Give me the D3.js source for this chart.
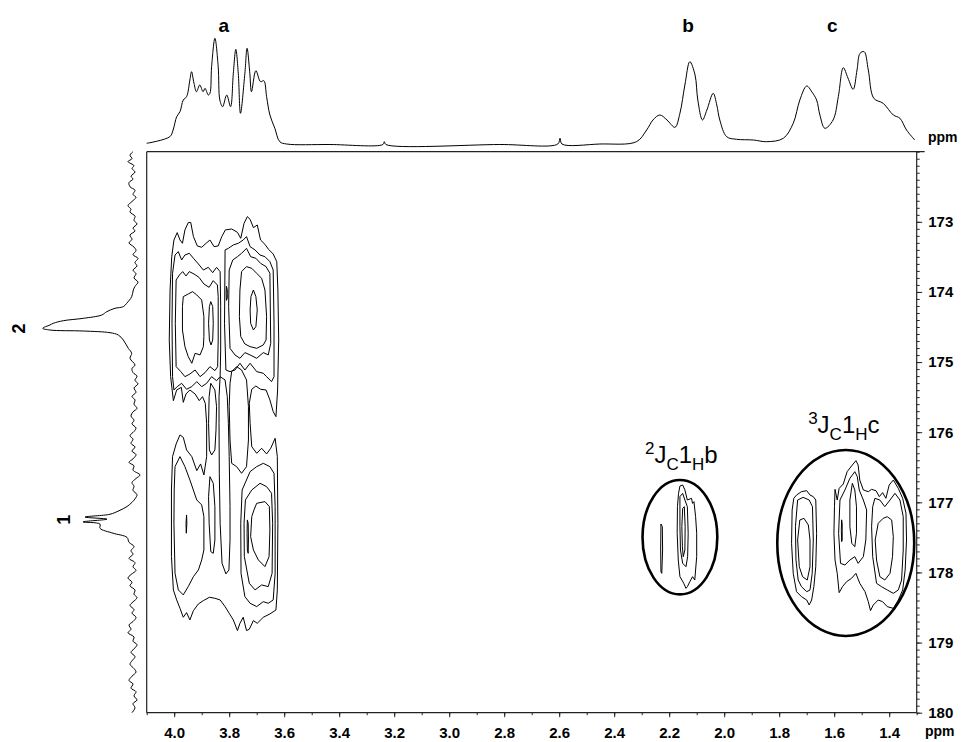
<!DOCTYPE html>
<html>
<head>
<meta charset="utf-8">
<script src="https://cdn.jsdelivr.net/npm/d3@7/dist/d3.min.js"></script>
<style>
  html, body { margin: 0; padding: 0; background: #fff; }
  svg { display: block; font-family: "Liberation Sans", Arial, Helvetica, sans-serif; }
</style>
</head>
<body>
<svg id="chart" width="961" height="742"></svg>
<script>
// ---------- axis ticks ----------
const protonTicks = [4.0, 3.8, 3.6, 3.4, 3.2, 3.0, 2.8, 2.6, 2.4, 2.2, 2.0, 1.8, 1.6, 1.4];
const carbonTicks = [173, 174, 175, 176, 177, 178, 179, 180];

// ---------- 1H projection (ppm, intensity) ----------
const protonTrace = [
  [4.100, 1.7], [4.016, 8.3], [4.004, 15], [3.991, 28.3], [3.979, 33.3], [3.967, 45], [3.955, 48.3],
  [3.943, 65], [3.937, 73.3], [3.928, 61.7], [3.919, 53.3], [3.907, 60], [3.895, 53.3], [3.888, 56.7],
  [3.876, 50], [3.870, 51.7], [3.864, 78.3], [3.852, 106.7], [3.840, 78.3], [3.834, 45], [3.824, 38.3],
  [3.809, 50], [3.795, 38.3], [3.785, 71.7], [3.776, 95.7], [3.767, 71.7], [3.759, 31.7], [3.743, 71.7],
  [3.735, 96.7], [3.725, 71.7], [3.719, 53.3], [3.703, 74.3], [3.686, 63.3], [3.674, 64.3], [3.664, 48.3],
  [3.652, 30], [3.634, 16.7], [3.616, 3.3], [3.591, 1], [3.434, 0.5], [3.241, 0.5], [3.236, 3.3],
  [3.230, 0.5], [2.816, 0.5], [2.605, 1], [2.597, 6.7], [2.590, 1], [2.452, 1], [2.319, 3.3],
  [2.282, 15], [2.259, 25], [2.234, 30], [2.208, 25], [2.179, 17.7], [2.161, 31.7], [2.143, 60],
  [2.125, 83.3], [2.106, 70], [2.096, 45], [2.079, 25], [2.063, 35], [2.040, 51.7], [2.027, 40],
  [2.016, 25], [1.991, 8.3], [1.955, 5.7], [1.894, 5], [1.846, 3.3], [1.785, 6.7], [1.749, 21.7],
  [1.725, 45], [1.700, 59], [1.681, 53], [1.664, 45], [1.652, 30], [1.634, 16.7], [1.604, 25],
  [1.585, 48.3], [1.567, 77.3], [1.550, 67], [1.531, 55.7], [1.517, 75], [1.506, 91.7], [1.491, 93.3],
  [1.476, 75], [1.456, 46.7], [1.422, 41.7], [1.385, 30], [1.361, 26.7], [1.337, 15], [1.307, 5]
];
const protonLabels = [["a", 3.820], ["b", 2.131], ["c", 1.607]];

// ---------- 13C projection (ppm, intensity) ----------
const carbonTrace = [
  [172.00, 4], [172.05, 7], [172.10, 5], [172.14, 9], [172.20, 3], [172.24, 5], [172.29, 2], [172.35, 6],
  [172.39, 4], [172.44, 8], [172.50, 7], [172.55, 2], [172.61, 4], [172.65, 1], [172.71, 5], [172.77, 9],
  [172.82, 6], [172.86, 7], [172.92, 2], [172.98, 3], [173.03, 0], [173.09, 4], [173.13, 2], [173.19, 7],
  [173.25, 5], [173.30, 8], [173.36, 3], [173.41, 1], [173.47, 4], [173.52, -1], [173.58, 2], [173.63, 0],
  [173.69, 4], [173.74, 1], [173.80, 3], [173.86, -1], [173.92, 2],
  [173.972, 3.7], [174.068, 5.3], [174.162, 10.3], [174.210, 13.7], [174.233, 22], [174.282, 30.3],
  [174.329, 35.3], [174.376, 53.7], [174.410, 73.7], [174.447, 83.7], [174.471, 87], [174.518, 94.3],
  [174.543, 87], [174.557, 53.7], [174.581, 27], [174.614, 18.7], [174.685, 13.7], [174.804, 8.7],
  [174.875, 5.3], [174.946, 7],
  [175.042, 2], [175.09, 5], [175.15, 4], [175.20, 0], [175.26, 2], [175.31, -1], [175.37, 3], [175.43, 1],
  [175.49, 5], [175.54, 2], [175.60, 3], [175.66, 0], [175.71, 4], [175.77, 6], [175.83, 3], [175.88, 5],
  [175.94, 1], [175.99, 3], [176.05, 7], [176.10, 4], [176.16, 6], [176.21, 2], [176.27, 5], [176.32, 1],
  [176.38, 4], [176.43, 8], [176.48, 3], [176.54, 4], [176.61, -3], [176.66, 1], [176.72, 5], [176.77, 3],
  [176.83, 4], [176.89, 0], [176.95, 2],
  [177.00, 5], [177.06, 10], [177.12, 18], [177.17, 27], [177.21, 52], [177.24, 30], [177.28, 54],
  [177.31, 37], [177.37, 37], [177.44, 24], [177.50, 10], [177.57, 8],
  [177.63, 3], [177.69, 6], [177.74, 4], [177.80, 8], [177.86, 2], [177.92, 4], [177.97, 1], [178.03, 6],
  [178.08, 9], [178.14, 5], [178.19, 7], [178.25, 2], [178.31, 3], [178.36, 0], [178.42, 4], [178.47, 7],
  [178.53, 3], [178.58, 5], [178.64, 1], [178.70, 4], [178.75, 8], [178.81, 6], [178.86, 9], [178.92, 3],
  [178.98, 4], [179.03, 0], [179.09, 3], [179.14, 6], [179.20, 2], [179.26, 5], [179.31, 7], [179.37, 3],
  [179.42, 1], [179.48, 5], [179.54, 8], [179.59, 4], [179.65, 6], [179.70, 1], [179.76, 3], [179.82, 0],
  [179.87, 4], [179.93, 2], [180.00, 5]
];
const carbonLabels = [["2", 174.52, 25], ["1", 177.25, 70]];

// ---------- 2D contours, [1H ppm, 13C ppm] ----------
const contoursA = [
  // outermost level, both carbon rows joined through the 3.8 ppm column
  [[4.013,175.208],[4.018,174.685],[4.015,173.972],[4.009,173.497],[4.001,173.259],[3.989,173.154],[3.979,173.259],
   [3.970,173.306],[3.961,173.116],[3.949,173.012],[3.940,173.007],[3.930,173.211],[3.916,173.344],[3.900,173.363],
   [3.884,173.306],[3.870,173.259],[3.855,173.354],[3.840,173.344],[3.827,173.211],[3.814,173.116],[3.791,173.102],
   [3.770,173.150],[3.758,173.235],[3.746,173.021],[3.734,172.926],[3.724,172.964],[3.712,173.083],[3.698,173.045],
   [3.686,173.259],[3.670,173.321],[3.657,173.392],[3.640,173.459],[3.627,173.568],[3.623,173.972],[3.620,174.685],
   [3.624,175.398],[3.630,175.778],[3.640,175.707],[3.652,175.540],[3.666,175.398],[3.686,175.388],[3.703,175.341],
   [3.718,175.388],[3.727,175.588],[3.724,175.873],[3.718,176.206],[3.700,176.301],[3.682,176.229],[3.664,176.310],
   [3.649,176.229],[3.633,176.087],[3.625,176.348],[3.623,177.299],[3.625,178.249],[3.630,178.535],[3.652,178.592],
   [3.676,178.639],[3.698,178.725],[3.712,178.687],[3.727,178.810],[3.737,178.829],[3.749,178.639],[3.761,178.725],
   [3.770,178.829],[3.785,178.677],[3.800,178.582],[3.815,178.487],[3.833,178.392],[3.852,178.368],[3.872,178.354],
   [3.894,178.402],[3.912,178.449],[3.930,178.544],[3.943,178.677],[3.955,178.573],[3.967,178.639],[3.979,178.511],
   [3.991,178.392],[4.003,178.249],[4.010,177.774],[4.010,176.824],[4.006,176.348],[3.993,176.168],[3.979,176.039],
   [3.967,176.073],[3.955,176.253],[3.936,176.348],[3.918,176.548],[3.904,176.453],[3.892,176.610],[3.882,176.348],
   [3.882,175.873],[3.887,175.588],[3.897,175.493],[3.909,175.550],[3.924,175.455],[3.943,175.398],[3.957,175.455],
   [3.967,175.574],[3.974,175.360],[3.991,175.398],[4.003,175.550]],
  // 174.4 ppm row, 3.93 ppm group
  [[4.006,175.208],[4.008,174.447],[4.006,173.734],[3.997,173.473],[3.985,173.425],[3.973,173.544],[3.961,173.473],
   [3.945,173.449],[3.930,173.520],[3.912,173.601],[3.894,173.687],[3.876,173.649],[3.860,173.725],[3.846,173.649],
   [3.833,173.710],[3.831,174.209],[3.831,174.827],[3.833,175.208],[3.846,175.265],[3.864,175.208],[3.882,175.303],
   [3.900,175.350],[3.918,175.279],[3.936,175.350],[3.955,175.388],[3.973,175.303],[3.989,175.350],[4.001,175.398]],
  [[3.993,175.065],[3.996,174.447],[3.993,173.829],[3.981,173.758],[3.969,173.710],[3.957,173.772],[3.945,173.710],
   [3.928,173.744],[3.910,173.791],[3.892,173.886],[3.873,173.934],[3.858,173.839],[3.843,173.901],[3.840,174.067],
   [3.840,174.685],[3.842,175.065],[3.852,175.122],[3.870,175.065],[3.888,175.151],[3.906,175.208],[3.924,175.113],
   [3.943,175.170],[3.961,175.208],[3.976,175.136]],
  [[3.970,174.209],[3.967,174.067],[3.949,174.029],[3.933,173.996],[3.918,174.043],[3.900,174.114],[3.892,174.352],
   [3.892,174.637],[3.894,174.780],[3.906,174.898],[3.924,174.875],[3.936,175.017],[3.949,174.922],[3.961,174.780],
   [3.970,174.542]],
  [[3.867,174.138],[3.860,174.209],[3.858,174.447],[3.860,174.685],[3.866,174.756],[3.872,174.685],[3.875,174.447],
   [3.872,174.209]],
  // 174.4 ppm row, 3.72 ppm group
  [[3.815,173.401],[3.803,173.378],[3.785,173.330],[3.767,173.306],[3.749,173.259],[3.737,173.211],[3.724,173.354],
   [3.706,173.401],[3.688,173.473],[3.670,173.497],[3.652,173.568],[3.640,173.687],[3.637,174.447],[3.637,175.208],
   [3.646,175.279],[3.664,175.208],[3.676,175.160],[3.700,175.136],[3.724,175.017],[3.743,175.113],[3.761,175.017],
   [3.779,175.113],[3.797,175.136],[3.812,175.113],[3.817,174.447]],
  [[3.800,173.687],[3.787,173.544],[3.770,173.497],[3.755,173.449],[3.737,173.378],[3.722,173.497],[3.703,173.520],
   [3.686,173.592],[3.666,173.639],[3.652,173.734],[3.649,174.732],[3.658,174.898],[3.676,174.865],[3.700,174.946],
   [3.724,174.898],[3.743,174.865],[3.761,174.946],[3.779,174.898],[3.797,174.804],[3.802,174.209]],
  [[3.761,173.972],[3.755,173.710],[3.737,173.639],[3.718,173.663],[3.700,173.734],[3.682,173.806],[3.670,173.972],
   [3.664,174.352],[3.666,174.685],[3.676,174.756],[3.700,174.804],[3.724,174.780],[3.743,174.742],[3.758,174.637],
   [3.763,174.352]],
  [[3.712,173.972],[3.703,174.067],[3.698,174.257],[3.703,174.495],[3.712,174.542],[3.722,174.447],[3.724,174.257],
   [3.721,174.067]],
  [[3.810,173.92],[3.807,173.97],[3.807,174.09],[3.810,174.12],[3.811,174.02]],
  // 3.80-3.87 ppm column between the rows
  [[3.867,175.303],[3.852,175.398],[3.846,175.635],[3.848,175.968],[3.852,176.253],[3.864,176.325],[3.872,176.253],
   [3.875,175.873],[3.873,175.493]],
  [[3.833,175.208],[3.815,175.255],[3.807,175.493],[3.803,175.873],[3.800,176.348],[3.797,177.061],[3.797,177.537],
   [3.801,177.964],[3.812,178.021],[3.826,177.869],[3.833,177.299],[3.836,176.586],[3.837,175.873],[3.837,175.493]],
  [[3.791,175.136],[3.773,175.065],[3.755,175.113],[3.737,175.255],[3.730,175.635],[3.730,176.111],[3.737,176.491],
   [3.755,176.586],[3.773,176.491],[3.791,176.444],[3.797,176.111],[3.800,175.635],[3.797,175.303]],
  // 177.5 ppm row
  [[3.997,176.491],[3.979,176.348],[3.961,176.491],[3.943,176.681],[3.918,176.966],[3.900,177.037],[3.892,177.204],
   [3.892,177.679],[3.900,177.822],[3.912,177.964],[3.930,178.059],[3.949,178.202],[3.967,178.320],[3.985,178.249],
   [3.997,178.012],[4.001,177.299],[4.000,176.824]],
  [[3.955,177.18],[3.954,177.30],[3.956,177.44],[3.957,177.30]],
  [[3.870,176.634],[3.858,176.729],[3.852,177.061],[3.852,177.537],[3.858,177.727],[3.867,177.703],[3.873,177.299],
   [3.875,176.919]],
  [[3.724,176.562],[3.700,176.491],[3.676,176.444],[3.652,176.491],[3.637,176.586],[3.633,177.061],[3.633,178.012],
   [3.640,178.392],[3.658,178.440],[3.676,178.416],[3.700,178.487],[3.724,178.440],[3.743,178.344],[3.757,178.012],
   [3.758,177.299],[3.753,176.824]],
  [[3.718,176.824],[3.688,176.729],[3.664,176.776],[3.646,176.871],[3.642,177.299],[3.644,178.012],[3.658,178.202],
   [3.682,178.178],[3.706,178.249],[3.727,178.154],[3.745,177.774],[3.746,177.299],[3.741,176.966]],
  [[3.700,177.014],[3.670,176.990],[3.654,177.061],[3.652,177.394],[3.655,177.774],[3.670,177.917],[3.694,177.822],
   [3.712,177.679],[3.722,177.489],[3.718,177.204],[3.710,177.109]],
  [[3.734,177.251],[3.731,177.299],[3.730,177.537],[3.731,177.727],[3.734,177.679],[3.735,177.441]]
];

const contoursB = [
  [[2.230,177.309],[2.225,177.347],[2.224,177.680],[2.227,178.013],[2.230,177.989],[2.231,177.680]],
  [[2.161,176.767],[2.151,176.753],[2.143,176.824],[2.134,176.967],[2.119,176.943],[2.115,177.015],[2.110,176.991],
   [2.104,177.205],[2.100,177.442],[2.100,177.775],[2.107,178.108],[2.115,178.060],[2.125,178.132],[2.134,178.203],
   [2.139,178.227],[2.147,178.155],[2.161,178.060],[2.167,177.823],[2.171,177.442],[2.170,177.062],[2.166,176.872]],
  [[2.161,176.919],[2.151,176.872],[2.143,176.967],[2.134,177.062],[2.131,177.442],[2.133,177.775],[2.139,177.918],
   [2.151,177.870],[2.159,177.680],[2.161,177.347]],
  [[2.151,177.086],[2.145,177.062],[2.142,177.347],[2.143,177.680],[2.149,177.775],[2.152,177.633],[2.154,177.347]]
];

const contoursC = [
  [[1.737,176.896],[1.719,176.848],[1.700,176.834],[1.688,176.896],[1.676,176.919],[1.667,176.967],[1.664,177.442],
   [1.667,177.918],[1.674,178.203],[1.682,178.393],[1.691,178.464],[1.700,178.393],[1.719,178.345],[1.737,178.274],
   [1.749,178.013],[1.755,177.585],[1.753,177.110],[1.747,176.943]],
  [[1.733,176.967],[1.713,176.929],[1.691,176.967],[1.679,177.062],[1.676,177.537],[1.680,178.013],[1.688,178.250],
   [1.700,178.274],[1.719,178.203],[1.731,178.108],[1.739,177.823],[1.741,177.347]],
  [[1.725,177.252],[1.710,177.228],[1.694,177.324],[1.688,177.537],[1.688,177.918],[1.698,178.108],[1.715,178.060],
   [1.727,177.918],[1.733,177.537]],
  [[1.597,176.815],[1.589,176.967],[1.582,176.801],[1.567,176.739],[1.553,176.563],[1.537,176.482],[1.521,176.406],
   [1.513,176.468],[1.507,176.682],[1.494,176.824],[1.476,176.848],[1.464,176.815],[1.448,176.834],[1.436,176.919],
   [1.424,176.862],[1.412,176.943],[1.400,176.753],[1.385,176.682],[1.367,176.801],[1.351,176.943],[1.339,177.157],
   [1.337,177.537],[1.342,177.965],[1.351,178.250],[1.367,178.393],[1.385,178.512],[1.407,178.488],[1.424,178.417],
   [1.440,178.393],[1.458,178.464],[1.468,178.545],[1.476,178.417],[1.488,178.274],[1.507,178.155],[1.521,178.013],
   [1.537,178.084],[1.555,178.132],[1.570,178.203],[1.582,178.288],[1.589,178.013],[1.597,177.823],[1.601,177.442],
   [1.599,177.062]],
  [[1.579,176.967],[1.561,176.824],[1.543,176.658],[1.525,176.563],[1.516,176.634],[1.509,176.824],[1.494,176.967],
   [1.482,177.110],[1.485,177.537],[1.494,177.775],[1.513,177.870],[1.525,177.775],[1.543,177.823],[1.561,177.894],
   [1.577,177.870],[1.584,177.442]],
  [[1.534,176.729],[1.525,176.824],[1.519,177.062],[1.519,177.442],[1.525,177.633],[1.536,177.585],[1.543,177.347],
   [1.543,176.967]],
  [[1.573,177.25],[1.571,177.30],[1.571,177.54],[1.573,177.56],[1.574,177.40]],
  [[1.452,176.943],[1.434,176.967],[1.416,177.062],[1.397,176.967],[1.379,176.872],[1.361,176.967],[1.349,177.205],
   [1.349,177.680],[1.355,178.108],[1.367,178.250],[1.385,178.298],[1.407,178.250],[1.428,178.203],[1.446,178.155],
   [1.460,177.775],[1.464,177.347],[1.460,177.062]],
  [[1.440,177.300],[1.422,177.228],[1.407,177.205],[1.391,177.252],[1.385,177.490],[1.388,177.775],[1.397,178.013],
   [1.416,178.108],[1.434,178.060],[1.446,177.823],[1.451,177.537]]
];

// highlighted correlations: centre (1H, 13C), half-widths (1H, 13C), label anchor and parts
const highlights = [
  { h: 2.161, c: 177.497, rh: 0.136, rc: 0.815, sup: "2", label: ["J", "C", "1", "H", "b"], lh: 2.156, lc: 176.44 },
  { h: 1.558, c: 177.580, rh: 0.249, rc: 1.326, sup: "3", label: ["J", "C", "1", "H", "c"], lh: 1.565, lc: 176.01 }
];

// ---------- layout ----------
const svg = d3.select("#chart");
const plot = { left: 146.7, right: 916.7, top: 151.7, bottom: 712.7 };

const x = d3.scaleLinear().domain([4.1, 1.3]).range([plot.left, plot.right]);
const y = d3.scaleLinear().domain([172, 180]).range([plot.top, plot.bottom]);
const topI = d3.scaleLinear().domain([0, 100]).range([145, 45]);
const leftI = d3.scaleLinear().domain([0, 100]).range([137, 37]);

svg.append("rect").attr("width", 961).attr("height", 742).attr("fill", "#fff");

// frame
const frame = svg.append("g").attr("stroke", "#222").attr("stroke-width", 1.2).attr("fill", "none");
frame.append("line").attr("x1", plot.left).attr("x2", plot.left).attr("y1", plot.top).attr("y2", plot.bottom);
frame.append("line").attr("x1", plot.left).attr("x2", plot.right + 8).attr("y1", plot.top).attr("y2", plot.top);

// bottom axis (1H)
const gx = svg.append("g").attr("transform", `translate(0,${plot.bottom})`);
gx.call(d3.axisBottom(x).tickValues(x.ticks(28)).tickSize(2.5).tickFormat(""));
gx.call(g => g.select(".domain").remove());
const gxMajor = svg.append("g").attr("transform", `translate(0,${plot.bottom})`)
  .call(d3.axisBottom(x).tickValues(protonTicks).tickSize(4.5).tickFormat(d3.format(".1f")));
gxMajor.select(".domain").attr("d", `M${plot.left},0H${plot.right}`);
gxMajor.selectAll("text").attr("y", 25).attr("dy", 0)
  .attr("font-size", 15).attr("font-weight", "bold").attr("fill", "#000");
gxMajor.select(".domain").attr("stroke", "#222").attr("stroke-width", 1.2);

// right axis (13C)
const gy = svg.append("g").attr("transform", `translate(${plot.right},0)`);
gy.call(d3.axisRight(y).tickValues(y.ticks(80)).tickSize(3).tickFormat(""));
gy.call(g => g.select(".domain").remove());
const gyMajor = svg.append("g").attr("transform", `translate(${plot.right},0)`)
  .call(d3.axisRight(y).tickValues(carbonTicks).tickSize(5.5).tickPadding(6).tickFormat(d3.format("d")));
gyMajor.select(".domain").attr("d", `M0,${plot.top}V${plot.bottom}`).attr("stroke", "#222").attr("stroke-width", 1.2);
gyMajor.selectAll("text").attr("font-size", 15).attr("font-weight", "bold").attr("fill", "#000");
svg.selectAll(".tick line").attr("stroke", "#222");

svg.append("text").attr("x", 925).attr("y", 736).attr("font-size", 14).attr("font-weight", "bold").text("ppm");
svg.append("text").attr("x", 928).attr("y", 142).attr("font-size", 14).attr("font-weight", "bold").text("ppm");

// 1H projection
svg.append("path")
  .datum(protonTrace)
  .attr("fill", "none").attr("stroke", "#000").attr("stroke-width", 1)
  .attr("d", d3.line().x(d => x(d[0])).y(d => topI(d[1])).curve(d3.curveCatmullRom.alpha(0.5)));
svg.selectAll(".plabel").data(protonLabels).join("text")
  .attr("x", d => x(d[1])).attr("y", 32)
  .attr("text-anchor", "middle").attr("font-size", 19).attr("font-weight", "bold")
  .text(d => d[0]);

// 13C projection
svg.append("path")
  .datum(carbonTrace)
  .attr("fill", "none").attr("stroke", "#000").attr("stroke-width", 1)
  .attr("d", d3.line().x(d => leftI(d[1])).y(d => y(d[0])).curve(d3.curveCatmullRom.alpha(0.5)));
svg.selectAll(".clabel").data(carbonLabels).join("text")
  .attr("transform", d => `translate(${d[2]},${y(d[1])}) rotate(-90)`)
  .attr("text-anchor", "middle").attr("font-size", 18).attr("font-weight", "bold")
  .text(d => d[0]);

// contour levels
const contourLine = d3.line().x(d => x(d[0])).y(d => y(d[1])).curve(d3.curveLinearClosed);
const gc = svg.append("g").attr("fill", "none").attr("stroke", "#000").attr("stroke-width", 1).attr("stroke-linejoin", "round");
gc.selectAll("path").data([...contoursA, ...contoursB, ...contoursC]).join("path").attr("d", contourLine);

// highlighted cross-peak groups
svg.selectAll(".hl").data(highlights).join("ellipse")
  .attr("cx", d => x(d.h)).attr("cy", d => y(d.c))
  .attr("rx", d => Math.abs(x(d.h + d.rh) - x(d.h))).attr("ry", d => y(d.c + d.rc) - y(d.c))
  .attr("fill", "none").attr("stroke", "#000").attr("stroke-width", 2.6);

const hlText = svg.selectAll(".hlt").data(highlights).join("text")
  .attr("x", d => x(d.lh)).attr("y", d => y(d.lc))
  .attr("text-anchor", "middle").attr("font-size", 24).attr("fill", "#000");
hlText.append("tspan").attr("font-size", 17).attr("dy", -9).text(d => d.sup);
hlText.append("tspan").attr("dy", 9).text(d => d.label[0]);
hlText.append("tspan").attr("font-size", 17).attr("dy", 7).text(d => d.label[1]);
hlText.append("tspan").attr("dy", -7).text(d => d.label[2]);
hlText.append("tspan").attr("font-size", 17).attr("dy", 7).text(d => d.label[3]);
hlText.append("tspan").attr("dy", -7).text(d => d.label[4]);
</script>
</body>
</html>
